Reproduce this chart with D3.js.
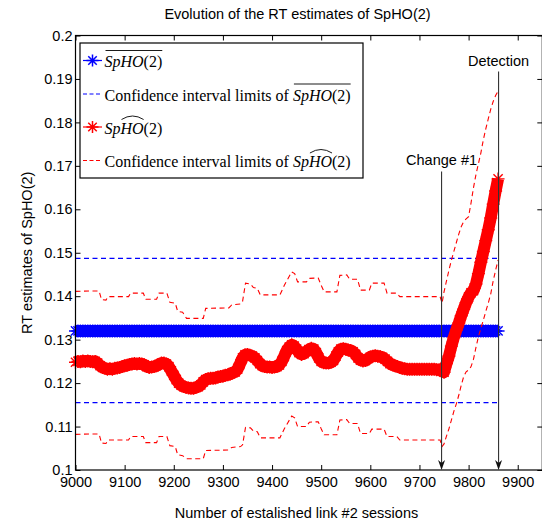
<!DOCTYPE html>
<html><head><meta charset="utf-8">
<script src="https://cdn.jsdelivr.net/npm/d3@7"></script>
<style>html,body{margin:0;padding:0;background:#fff;} svg{display:block;}</style>
</head><body>
<svg id="c" width="542" height="529"></svg>
<script>
// ---------------- data ----------------
const sessions = d3.range(9000, 9861, 5);
const redEstimate = [
0.1248,0.1250,0.1249,0.1251,0.1250,0.1251,0.1250,0.1249,0.1250,0.1246,
0.1240,0.1236,0.1234,0.1232,0.1233,0.1232,0.1234,0.1235,0.1236,0.1238,
0.1240,0.1241,0.1243,0.1244,0.1245,0.1244,0.1245,0.1244,0.1242,0.1238,
0.1236,0.1237,0.1238,0.1240,0.1243,0.1246,0.1246,0.1244,0.1238,0.1228,
0.1218,0.1208,0.1200,0.1195,0.1192,0.1190,0.1189,0.1188,0.1188,0.1190,
0.1192,0.1196,0.1203,0.1208,0.1210,0.1211,0.1211,0.1212,0.1214,0.1215,
0.1216,0.1218,0.1219,0.1221,0.1224,0.1226,0.1232,0.1245,0.1258,0.1265,
0.1266,0.1264,0.1262,0.1258,0.1252,0.1245,0.1240,0.1238,0.1237,0.1237,
0.1236,0.1237,0.1238,0.1242,0.1250,0.1262,0.1275,0.1283,0.1288,0.1285,
0.1278,0.1270,0.1266,0.1268,0.1273,0.1277,0.1280,0.1278,0.1270,0.1258,
0.1250,0.1247,0.1246,0.1246,0.1248,0.1252,0.1262,0.1272,0.1278,0.1279,
0.1278,0.1276,0.1275,0.1272,0.1266,0.1258,0.1253,0.1251,0.1252,0.1256,
0.1260,0.1262,0.1263,0.1262,0.1261,0.1259,0.1255,0.1250,0.1245,0.1242,
0.1240,0.1238,0.1236,0.1234,0.1233,0.1232,0.1232,0.1232,0.1232,0.1232,
0.1232,0.1232,0.1232,0.1232,0.1232,0.1232,0.1232,0.1231,0.1231,0.1228,
0.1225,0.1245,0.1262,0.1285,0.1305,0.1322,0.1338,0.1355,0.1370,0.1385,
0.1398,0.1408,0.1413,0.1428,0.1452,0.1478,0.1503,0.1528,0.1553,0.1580,
0.1612,0.1642,0.1670];
const blueMean = [
0.132,0.132,0.132,0.132,0.132,0.132,0.132,0.132,0.132,0.132,
0.132,0.132,0.132,0.132,0.132,0.132,0.132,0.132,0.132,0.132,
0.132,0.132,0.132,0.132,0.132,0.132,0.132,0.132,0.132,0.132,
0.132,0.132,0.132,0.132,0.132,0.132,0.132,0.132,0.132,0.132,
0.132,0.132,0.132,0.132,0.132,0.132,0.132,0.132,0.132,0.132,
0.132,0.132,0.132,0.132,0.132,0.132,0.132,0.132,0.132,0.132,
0.132,0.132,0.132,0.132,0.132,0.132,0.132,0.132,0.132,0.132,
0.132,0.132,0.132,0.132,0.132,0.132,0.132,0.132,0.132,0.132,
0.132,0.132,0.132,0.132,0.132,0.132,0.132,0.132,0.132,0.132,
0.132,0.132,0.132,0.132,0.132,0.132,0.132,0.132,0.132,0.132,
0.132,0.132,0.132,0.132,0.132,0.132,0.132,0.132,0.132,0.132,
0.132,0.132,0.132,0.132,0.132,0.132,0.132,0.132,0.132,0.132,
0.132,0.132,0.132,0.132,0.132,0.132,0.132,0.132,0.132,0.132,
0.132,0.132,0.132,0.132,0.132,0.132,0.132,0.132,0.132,0.132,
0.132,0.132,0.132,0.132,0.132,0.132,0.132,0.132,0.132,0.132,
0.132,0.132,0.132,0.132,0.132,0.132,0.132,0.132,0.132,0.132,
0.132,0.132,0.132,0.132,0.132,0.132,0.132,0.132,0.132,0.132,
0.132,0.132,0.132];
const blueCILimits = [0.1487, 0.1155];
const redCISessions = [
9000,9030,9048,9053,9062,9066,9108,9112,9138,9143,9165,9170,9186,9192,9203,9208,9218,9226,9260,9265,
9312,9318,9336,9340,9346,9356,9362,9370,9376,9416,9425,9440,9446,9452,9470,9476,9494,9500,9506,9532,
9538,9552,9558,9574,9580,9598,9603,9628,9634,9654,9660,9742,9746,
9750,9755,9760,9765,9770,9775,9780,9785,9790,9795,9800,9805,9810,9815,9820,9825,9830,9835,9840,9845,
9850,9855,9860];
const redCIUpper = [
0.1411,0.1412,0.1412,0.1392,0.1391,0.1399,0.1399,0.1407,0.1407,0.1393,0.1393,0.1407,0.1407,0.1386,0.1384,0.1365,0.1363,0.1349,0.1349,0.1372,
0.1373,0.1380,0.1382,0.1388,0.1430,0.1428,0.1420,0.1418,0.1403,0.1403,0.1425,0.1456,0.1452,0.1433,0.1433,0.1441,0.1442,0.1425,0.1410,0.1410,
0.1448,0.1449,0.1439,0.1439,0.1414,0.1414,0.1430,0.1430,0.1407,0.1407,0.1399,0.1399,0.1384,
0.1410,0.1435,0.1460,0.1483,0.1503,0.1523,0.1543,0.1560,0.1572,0.1578,0.1583,0.1615,0.1650,0.1680,0.1705,0.1730,0.1760,0.1785,0.1808,0.1830,
0.1848,0.1862,0.1872];
const redCILower = [
0.1082,0.1083,0.1083,0.1062,0.1061,0.1069,0.1069,0.1077,0.1077,0.1063,0.1063,0.1077,0.1077,0.1056,0.1054,0.1035,0.1033,0.1026,0.1026,0.1045,
0.1046,0.1052,0.1054,0.1058,0.1098,0.1097,0.1090,0.1088,0.1074,0.1074,0.1095,0.1124,0.1120,0.1100,0.1100,0.1110,0.1111,0.1095,0.1081,0.1081,
0.1115,0.1116,0.1107,0.1107,0.1084,0.1084,0.1094,0.1094,0.1077,0.1077,0.1069,0.1069,0.1054,
0.1060,0.1078,0.1095,0.1115,0.1135,0.1152,0.1172,0.1195,0.1215,0.1226,0.1230,0.1238,0.1255,0.1282,0.1307,0.1326,0.1345,0.1365,0.1384,0.1405,
0.1435,0.1460,0.1483];
const xTicks = [9000,9100,9200,9300,9400,9500,9600,9700,9800,9900];
const xTickLabels = ["9000","9100","9200","9300","9400","9500","9600","9700","9800","9900"];
const yTicks = [0.1,0.11,0.12,0.13,0.14,0.15,0.16,0.17,0.18,0.19,0.2];
const yTickLabels = ["0.1","0.11","0.12","0.13","0.14","0.15","0.16","0.17","0.18","0.19","0.2"];
const annotationSessions = [9745, 9861];
const annotationLabels = ["Change #1", "Detection"];
const titleText = "Evolution of the RT estimates of SpHO(2)";
const xLabelText = "Number of estalished link #2 sessions";
const yLabelText = "RT estimates of SpHO(2)";

// ---------------- drawing ----------------
const svg = d3.select("#c");
const L = 75.5, R = 542.3, T = 35.5, B = 470;
const x = d3.scaleLinear().domain([9000, 9950]).range([L, R]);
const y = d3.scaleLinear().domain([0.1, 0.2]).range([B, T]);
const SANS = "'Liberation Sans', Arial, Helvetica, sans-serif";
const SERIF = "'Liberation Serif', 'Times New Roman', serif";
const BLUE = "#0000ff", RED = "#ff0000";

function starPath(r) {
  const a = r * Math.SQRT1_2;
  return `M${-r},0L${r},0M0,${-r}L0,${r}M${-a},${-a}L${a},${a}M${-a},${a}L${a},${-a}`;
}
const STAR_R = 6.5;

const plot = svg.append("g");

// blue CI
const xs = d3.extent(sessions);
blueCILimits.forEach(v => {
  plot.append("path")
    .attr("d", d3.line()([[x(xs[0]), y(v)], [x(xs[1]), y(v)]]))
    .attr("stroke", BLUE).attr("stroke-width", 1.1).attr("stroke-dasharray", "5,3.5").attr("fill", "none");
});

// dense marker series: body drawn as a wide stroke through the points, stars on top
const seriesLine = d3.line().x(d => x(d[0])).y(d => y(d[1]));
function markerSeries(vals, color) {
  const pts = sessions.map((s, i) => [s, vals[i]]);
  const g = plot.append("g");
  g.append("path").attr("d", seriesLine(pts)).attr("stroke", color).attr("stroke-width", 12)
    .attr("stroke-linejoin", "round").attr("stroke-linecap", "butt").attr("fill", "none");
  g.selectAll("path.st").data(pts).join("path").attr("class", "st")
    .attr("transform", d => `translate(${x(d[0])},${y(d[1])})`)
    .attr("d", starPath(STAR_R)).attr("stroke", color).attr("stroke-width", 1.4).attr("fill", "none");
}
markerSeries(blueMean, BLUE);
markerSeries(redEstimate, RED);

// red CI
const ciLine = d3.line().x(d => x(d[0])).y(d => y(d[1]));
[redCIUpper, redCILower].forEach(arr => {
  plot.append("path")
    .attr("d", ciLine(redCISessions.map((s, i) => [s, arr[i]])))
    .attr("stroke", RED).attr("stroke-width", 1.1).attr("stroke-dasharray", "5,3.5").attr("fill", "none");
});

// axes
const fsTick = 14.5;
const gx = svg.append("g").attr("transform", `translate(0,${B})`)
  .call(d3.axisBottom(x).tickValues(xTicks).tickFormat((d, i) => xTickLabels[i]).tickSizeInner(-5).tickSizeOuter(0).tickPadding(7));
const gxt = svg.append("g").attr("transform", `translate(0,${T})`)
  .call(d3.axisTop(x).tickValues(xTicks).tickFormat("").tickSizeInner(-5).tickSizeOuter(0));
const gy = svg.append("g").attr("transform", `translate(${L},0)`)
  .call(d3.axisLeft(y).tickValues(yTicks).tickFormat((d, i) => yTickLabels[i]).tickSizeInner(-5).tickSizeOuter(0).tickPadding(3));
const gyr = svg.append("g").attr("transform", `translate(${R},0)`)
  .call(d3.axisRight(y).tickValues(yTicks).tickFormat("").tickSizeInner(-5).tickSizeOuter(0));
[gx, gxt, gy, gyr].forEach(g => {
  g.select(".domain").remove();
  g.selectAll("line").attr("stroke", "#000").attr("stroke-width", 1);
  g.selectAll("text").attr("font-family", SANS).attr("font-size", fsTick).attr("fill", "#000");
});
svg.append("rect").attr("x", L).attr("y", T).attr("width", R - L).attr("height", B - T)
  .attr("fill", "none").attr("stroke", "#000").attr("stroke-width", 1.2);

// titles
svg.append("text").attr("x", 297.5).attr("y", 19).attr("text-anchor", "middle")
  .attr("font-family", SANS).attr("font-size", 14.5).text(titleText);
svg.append("text").attr("x", 296.5).attr("y", 518).attr("text-anchor", "middle")
  .attr("font-family", SANS).attr("font-size", 14.5).text(xLabelText);
svg.append("text").attr("transform", `translate(32,${(T + B) / 2}) rotate(-90)`).attr("text-anchor", "middle")
  .attr("font-family", SANS).attr("font-size", 14.5).text(yLabelText);

// annotations
const annTop = [171.5, 71.5];
const annTextY = [165, 66];
annotationSessions.forEach((s, i) => {
  const ax = x(s);
  svg.append("line").attr("x1", ax).attr("x2", ax).attr("y1", annTop[i]).attr("y2", B - 4)
    .attr("stroke", "#333").attr("stroke-width", 1.1);
  svg.append("path").attr("d", `M${ax},${B}L${ax - 3.5},${B - 10}L${ax},${B - 7}L${ax + 3.5},${B - 10}Z`)
    .attr("fill", "#111");
  svg.append("text").attr("x", ax).attr("y", annTextY[i]).attr("text-anchor", "middle")
    .attr("font-family", SANS).attr("font-size", 14.5).text(annotationLabels[i]);
});

// legend
const lg = svg.append("g");
lg.append("rect").attr("x", 80).attr("y", 43).attr("width", 283).attr("height", 135)
  .attr("fill", "#fff").attr("stroke", "#000").attr("stroke-width", 1.2);
const rows = [
  {base: 67, color: BLUE, star: true, prefix: "", deco: "bar"},
  {base: 100.5, color: BLUE, star: false, prefix: "Confidence interval limits of ", deco: "bar"},
  {base: 133.5, color: RED, star: true, prefix: "", deco: "hat"},
  {base: 167, color: RED, star: false, prefix: "Confidence interval limits of ", deco: "hat"}
];
rows.forEach(r => {
  const sy = r.base - 6.5;
  if (r.star) {
    lg.append("line").attr("x1", 83).attr("x2", 102).attr("y1", sy).attr("y2", sy).attr("stroke", r.color).attr("stroke-width", 1.2);
    lg.append("path").attr("transform", `translate(92.5,${sy})`).attr("d", starPath(6)).attr("stroke", r.color).attr("stroke-width", 1.5).attr("fill", "none");
  } else {
    lg.append("line").attr("x1", 83).attr("x2", 102).attr("y1", sy).attr("y2", sy).attr("stroke", r.color).attr("stroke-width", 1.1).attr("stroke-dasharray", "4,2.5");
  }
  const t = lg.append("text").attr("x", 104.5).attr("y", r.base).attr("font-family", SERIF).attr("font-size", 16).attr("fill", "#000");
  if (r.prefix) t.append("tspan").text(r.prefix);
  t.append("tspan").attr("font-style", "italic").text("SpHO");
  t.append("tspan").text("(2)");
  const n = t.node(), p = r.prefix.length;
  const x0 = n.getStartPositionOfChar(p).x, x1 = n.getEndPositionOfChar(p + 6).x;
  if (r.deco === "bar") {
    lg.append("line").attr("x1", x0 + 1).attr("x2", x1).attr("y1", r.base - 16.5).attr("y2", r.base - 16.5)
      .attr("stroke", "#000").attr("stroke-width", 0.9);
  } else {
    const h0 = n.getStartPositionOfChar(p + 2).x + 1, h1 = n.getEndPositionOfChar(p + 3).x;
    lg.append("path").attr("d", `M${h0},${r.base - 14}Q${(h0 + h1) / 2},${r.base - 21} ${h1},${r.base - 14}`)
      .attr("stroke", "#000").attr("stroke-width", 0.9).attr("fill", "none");
  }
});
</script>
</body></html>
